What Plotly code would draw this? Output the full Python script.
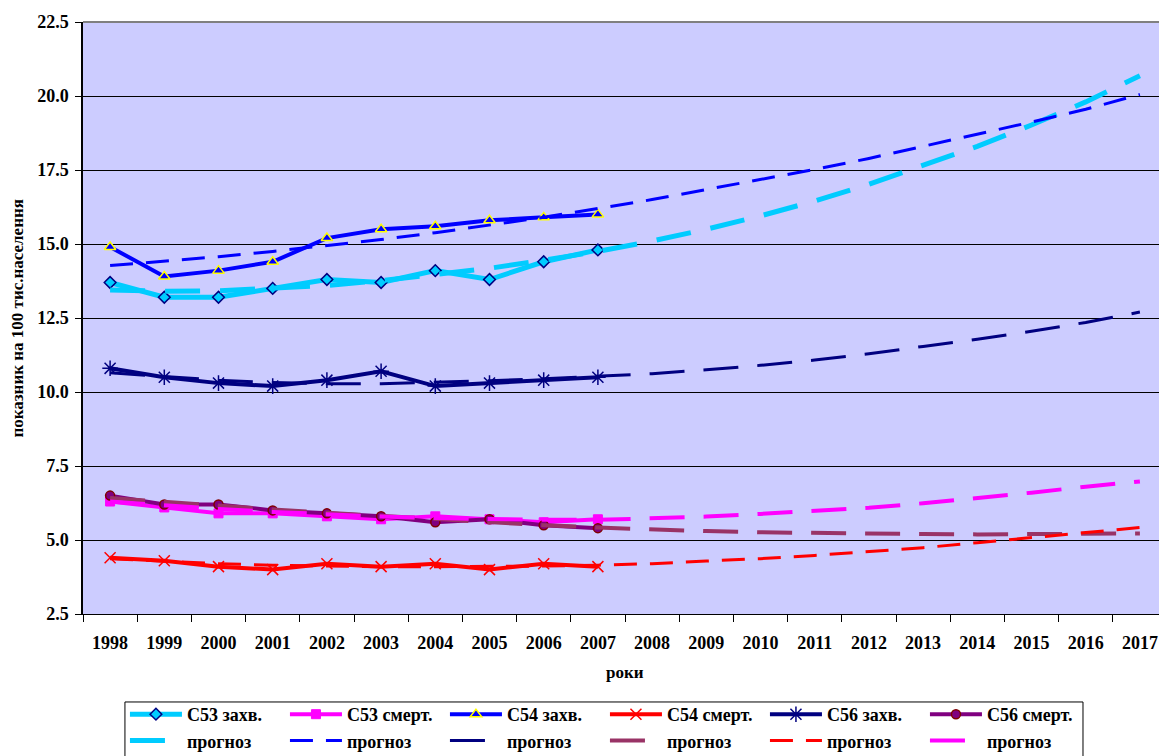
import plotly.graph_objects as go

years = ["1998", "1999", "2000", "2001", "2002", "2003", "2004", "2005", "2006", "2007",
         "2008", "2009", "2010", "2011", "2012", "2013", "2014", "2015", "2016", "2017"]
obs_years = years[:10]

# observed series 1998-2007
c53_inc = [13.7, 13.2, 13.2, 13.5, 13.8, 13.7, 14.1, 13.8, 14.4, 14.8]
c53_mort = [6.3, 6.1, 5.9, 5.9, 5.8, 5.7, 5.8, 5.7, 5.6, 5.7]
c54_inc = [14.9, 13.9, 14.1, 14.4, 15.2, 15.5, 15.6, 15.8, 15.9, 16.0]
c54_mort = [4.4, 4.3, 4.1, 4.0, 4.2, 4.1, 4.2, 4.0, 4.2, 4.1]
c56_inc = [10.8, 10.5, 10.3, 10.2, 10.4, 10.7, 10.2, 10.3, 10.4, 10.5]
c56_mort = [6.5, 6.2, 6.2, 6.0, 5.9, 5.8, 5.6, 5.7, 5.5, 5.4]

# forecast (trend) series 1998-2017
c53_inc_fc = [13.45, 13.4, 13.42, 13.5, 13.6, 13.76, 13.95, 14.18, 14.45, 14.75,
              15.1, 15.5, 15.95, 16.45, 17.02, 17.64, 18.3, 19.02, 19.8, 20.68]
c54_inc_fc = [14.27, 14.41, 14.57, 14.75, 14.94, 15.15, 15.38, 15.63, 15.9, 16.2,
              16.5, 16.84, 17.18, 17.52, 17.89, 18.3, 18.7, 19.12, 19.55, 20.05]
c56_inc_fc = [10.65, 10.52, 10.4, 10.32, 10.28, 10.28, 10.32, 10.38, 10.45, 10.53,
              10.62, 10.75, 10.9, 11.08, 11.29, 11.54, 11.78, 12.05, 12.35, 12.7]
c56_mort_fc = [6.42, 6.28, 6.15, 6.03, 5.92, 5.81, 5.71, 5.6, 5.5, 5.42,
               5.35, 5.3, 5.26, 5.23, 5.21, 5.2, 5.19, 5.2, 5.2, 5.22]
c54_mort_fc = [4.37, 4.28, 4.2, 4.15, 4.12, 4.1, 4.1, 4.1, 4.12, 4.15,
               4.2, 4.29, 4.37, 4.48, 4.62, 4.74, 4.91, 5.07, 5.25, 5.42]
c53_mort_fc = [6.3, 6.17, 6.05, 5.95, 5.86, 5.79, 5.74, 5.7, 5.68, 5.68,
               5.72, 5.79, 5.88, 5.98, 6.09, 6.24, 6.41, 6.6, 6.8, 6.98]

FONT = "Liberation Serif"

fig = go.Figure()

main = [
    ("C53 захв.", c53_inc, "#00CCFF", 5, dict(symbol="diamond", size=9, color="#00CCFF", line=dict(color="#000080", width=1.5))),
    ("C53 смерт.", c53_mort, "#FF00FF", 4, dict(symbol="square", size=9, color="#FF00FF", line=dict(color="#FF00FF", width=1))),
    ("C54 захв.", c54_inc, "#0000FF", 4, dict(symbol="triangle-up", size=10, color="#0000FF", line=dict(color="#FFFF00", width=1.5))),
    ("C54 смерт.", c54_mort, "#FF0000", 4, dict(symbol="x-thin", size=11, color="#FF0000", line=dict(color="#FF0000", width=1.5))),
    ("C56 захв.", c56_inc, "#000080", 4, dict(symbol="asterisk", size=13, color="#000080", line=dict(color="#000080", width=1.5))),
    ("C56 смерт.", c56_mort, "#800080", 4, dict(symbol="circle", size=9, color="#800080", line=dict(color="#800000", width=1.5))),
]
for i, (name, vals, col, w, mk) in enumerate(main):
    fig.add_trace(go.Scatter(x=obs_years, y=vals, name=name, mode="lines+markers",
                             line=dict(color=col, width=w), marker=mk, legendrank=i + 1))

fc = [
    (c53_inc_fc, "#00CCFF", 5, "35px,20px"),
    (c54_inc_fc, "#0000FF", 3, "23px,13px"),
    (c56_inc_fc, "#000080", 3, "35px,19px"),
    (c56_mort_fc, "#993366", 4, "35px,19px"),
    (c54_mort_fc, "#FF0000", 3, "23px,13px"),
    (c53_mort_fc, "#FF00FF", 4, "35px,19px"),
]
for i, (vals, col, w, dash) in enumerate(fc):
    fig.add_trace(go.Scatter(x=years, y=vals, name="прогноз", mode="lines",
                             line=dict(color=col, width=w, dash=dash), legendrank=7 + i))

fig.update_layout(
    width=1159, height=748,
    margin=dict(l=75, r=0, t=14, b=142, autoexpand=False),
    paper_bgcolor="white", plot_bgcolor="#CCCCFF",
    font=dict(family=FONT, size=18, color="black", weight="bold"),
    showlegend=True,
    legend=dict(orientation="h", x=0.0387, xanchor="left", y=-0.1385, yanchor="top",
                bgcolor="rgba(0,0,0,0)", borderwidth=0,
                font=dict(family=FONT, size=18, color="black", weight="bold"),
                itemwidth=52, entrywidth=93, traceorder="normal"),
    xaxis=dict(type="category", categoryorder="array", categoryarray=years,
               range=[-0.5, 19.5], tickson="boundaries", ticks="outside", ticklen=7,
               tickcolor="black", showgrid=False, showline=True, linecolor="black", linewidth=1,
               ticklabelstandoff=12, tickfont=dict(family=FONT, size=18, weight="bold")),
    yaxis=dict(range=[2.5, 22.5], dtick=2.5, tick0=2.5, tickformat=".1f", ticks="outside",
               ticklen=6, tickcolor="black", showgrid=True, gridcolor="black", gridwidth=1,
               zeroline=False, showline=True, linecolor="black", linewidth=1.5,
               ticklabelstandoff=3, tickfont=dict(family=FONT, size=18, weight="bold")),
    shapes=[
        dict(type="line", xref="paper", yref="paper", x0=0, x1=1, y0=1, y1=1,
             line=dict(color="#808080", width=2)),
        dict(type="rect", xref="paper", yref="paper", x0=0.0387, x1=0.9225,
             y0=-0.1486, y1=-0.3, line=dict(color="black", width=1),
             fillcolor="rgba(0,0,0,0)"),
    ],
    annotations=[
        dict(text="показник на 100 тис.населення", xref="paper", yref="paper",
             x=-0.0613, y=0.5, xanchor="center", yanchor="middle", textangle=-90,
             showarrow=False, font=dict(family=FONT, size=17, weight="bold")),
        dict(text="роки", xref="paper", yref="paper", x=0.5, y=-0.098,
             xanchor="center", yanchor="middle", showarrow=False,
             font=dict(family=FONT, size=17, weight="bold")),
    ],
)

fig.write_html("out.html")
